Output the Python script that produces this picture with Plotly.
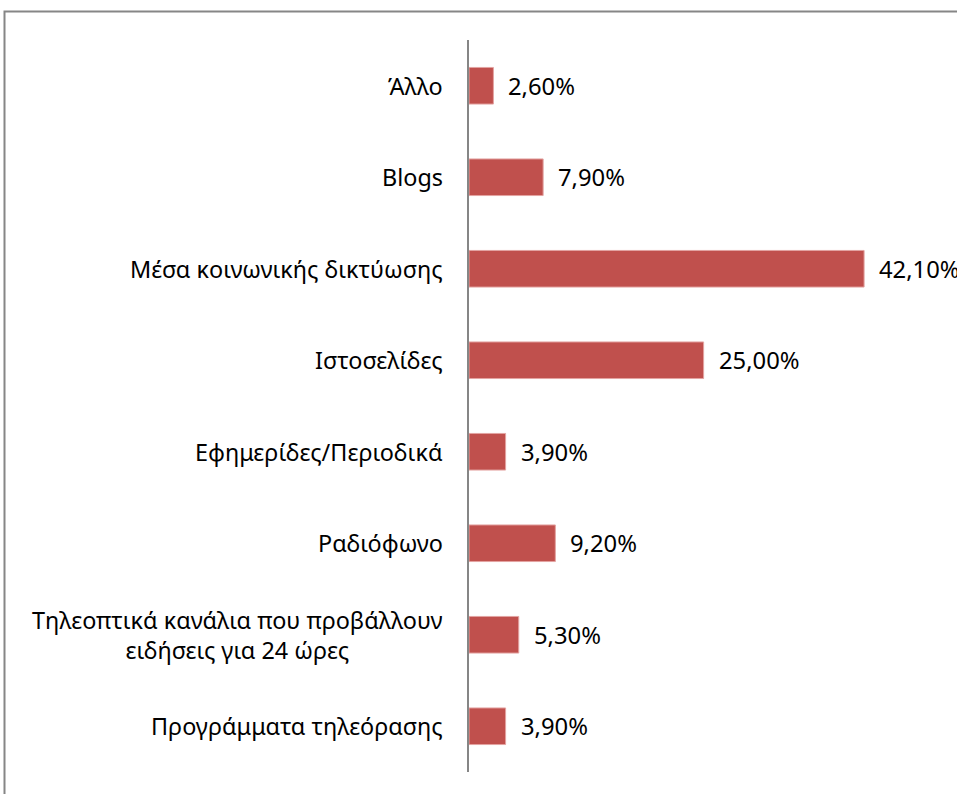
import plotly.graph_objects as go

# Categories listed bottom to top, with their shares (%)
categories = [
    "Προγράμματα τηλεόρασης",
    "Τηλεοπτικά κανάλια που προβάλλουν<br>ειδήσεις για 24 ώρες",
    "Ραδιόφωνο",
    "Εφημερίδες/Περιοδικά",
    "Ιστοσελίδες",
    "Μέσα κοινωνικής δικτύωσης",
    "Blogs",
    "Άλλο",
]
values = [3.9, 5.3, 9.2, 3.9, 25.0, 42.1, 7.9, 2.6]

W, H = 957, 794
L, R, T, B = 469, 0, 40, 22
FONT = "Noto Sans"
BAR = "#C0504D"
GRID = "#868686"

fig = go.Figure(
    go.Bar(
        x=values,
        y=categories,
        orientation="h",
        marker=dict(color=BAR, line=dict(color="#E3A3A1", width=1)),
        width=0.4,
        hoverinfo="x+y",
    )
)

annotations = []
# category labels, centred lines, right edge next to the axis
for c in categories:
    annotations.append(dict(
        x=0, xref="paper", y=c, yref="y", text=c, showarrow=False,
        xanchor="right", yanchor="middle", align="center", xshift=-24,
        font=dict(family=FONT, size=23.4, color="#000000"),
    ))
# value labels to the right of each bar
for c, v in zip(categories, values):
    annotations.append(dict(
        x=v, xref="x", y=c, yref="y",
        text=f"{v:.2f}".replace(".", ",") + "%", showarrow=False,
        xanchor="left", yanchor="middle", xshift=13,
        font=dict(family=FONT, size=23.8, color="#000000"),
    ))

pw, ph = W - L - R, H - T - B
# outer chart border (extends past the right and bottom edges)
frame = dict(
    type="rect", xref="paper", yref="paper",
    x0=(4.5 - L) / pw, x1=1.2, y0=-0.2, y1=(H - B - 11.5) / ph,
    line=dict(color=GRID, width=2), fillcolor="rgba(0,0,0,0)", layer="below",
)

fig.update_layout(
    width=W, height=H,
    margin=dict(l=L, r=R, t=T, b=B, pad=0),
    paper_bgcolor="white", plot_bgcolor="white",
    showlegend=False,
    xaxis=dict(range=[0, 52], visible=False, fixedrange=True),
    yaxis=dict(
        type="category", range=[-0.5, len(categories) - 0.5],
        showticklabels=False, showgrid=False, zeroline=False,
        showline=True, linecolor=GRID, linewidth=2, ticks="",
    ),
    annotations=annotations,
    shapes=[frame],
)

fig.write_html("out.html")
